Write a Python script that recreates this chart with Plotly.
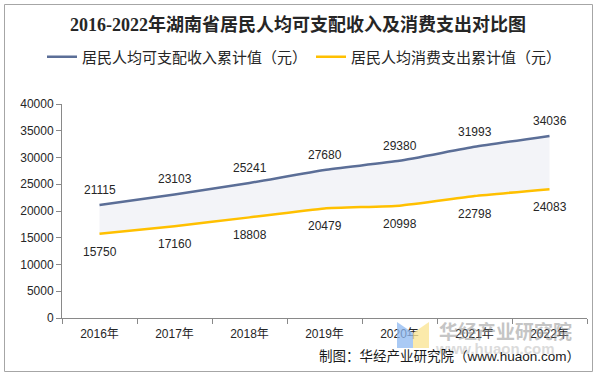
import plotly.graph_objects as go

years = ["2016年", "2017年", "2018年", "2019年", "2020年", "2021年", "2022年"]
income = [21115, 23103, 25241, 27680, 29380, 31993, 34036]
consumption = [15750, 17160, 18808, 20479, 20998, 22798, 24083]
income_name = "居民人均可支配收入累计值（元）"
consumption_name = "居民人均消费支出累计值（元）"
title_text = "2016-2022年湖南省居民人均可支配收入及消费支出对比图"
source_text = "制图：华经产业研究院（www.huaon.com）"
watermark_text = "华经产业研究院"
watermark_url = "www.huaon.com"

W, H = 596, 377
L, R, T, B = 62, 9, 104, 59
pw, ph = W - L - R, H - T - B


def px(x):
    return (x - L) / pw


def py(y):
    return (H - B - y) / ph


INC_COLOR = "#5B6E97"
CON_COLOR = "#FFC000"
SPL = 0.4

fig = go.Figure()
# filled band between the two series (no legend)
fig.add_trace(go.Scatter(x=years, y=consumption, mode="lines", showlegend=False, hoverinfo="skip",
                         line=dict(width=0, shape="spline", smoothing=SPL, color=CON_COLOR)))
fig.add_trace(go.Scatter(x=years, y=income, mode="lines", showlegend=False, hoverinfo="skip",
                         fill="tonexty", fillcolor="#F3F4F8",
                         line=dict(width=0, shape="spline", smoothing=SPL, color=INC_COLOR)))
# visible lines
fig.add_trace(go.Scatter(x=years, y=income, mode="lines", name=income_name,
                         line=dict(color=INC_COLOR, width=2.5, shape="spline", smoothing=SPL)))
fig.add_trace(go.Scatter(x=years, y=consumption, mode="lines", name=consumption_name,
                         line=dict(color=CON_COLOR, width=2.5, shape="spline", smoothing=SPL)))

label_font = dict(family="Liberation Sans, Arial, sans-serif", size=12, color="#262626")
for yr, v in zip(years, income):
    fig.add_annotation(x=yr, y=v, text=str(v), showarrow=False, yshift=15, font=label_font)
for yr, v in zip(years, consumption):
    fig.add_annotation(x=yr, y=v, text=str(v), showarrow=False, yshift=-18, font=label_font)

# watermark
fig.add_annotation(xref="paper", yref="paper", x=px(505), y=py(330), text=watermark_text,
                   showarrow=False, font=dict(family="Noto Sans CJK SC", size=19, color="#8C8C8C", weight="bold"),
                   opacity=0.5, xanchor="center", yanchor="middle")
fig.add_annotation(xref="paper", yref="paper", x=px(495), y=py(348), text=watermark_url,
                   showarrow=False, font=dict(family="Liberation Sans", size=15, color="#9A9A9A", weight="bold"),
                   opacity=0.35, xanchor="center", yanchor="middle")
fig.add_shape(type="path", xref="paper", yref="paper",
              path=f"M {px(397)} {py(322)} L {px(413)} {py(333)} L {px(413)} {py(348)} L {px(397)} {py(348)} Z",
              fillcolor="#8DB8F0", line=dict(width=0), opacity=0.75, layer="above")
fig.add_shape(type="path", xref="paper", yref="paper",
              path=f"M {px(413)} {py(333)} L {px(429)} {py(322)} L {px(429)} {py(348)} L {px(413)} {py(348)} Z",
              fillcolor="#FAE38F", line=dict(width=0), opacity=0.75, layer="above")

# source
fig.add_annotation(xref="paper", yref="paper", x=px(582), y=py(356), text=source_text,
                   showarrow=False, xanchor="right", yanchor="middle",
                   font=dict(family="Liberation Sans, Noto Sans CJK SC", size=13.5, color="#1A1A1A"))

# outer border
fig.add_shape(type="rect", xref="paper", yref="paper",
              x0=px(4.5), x1=px(592.5), y0=py(371.5), y1=py(4.5),
              line=dict(color="#A6A6A6", width=1), fillcolor="rgba(0,0,0,0)", layer="below")

fig.update_layout(
    width=W, height=H,
    margin=dict(l=L, r=R, t=T, b=B),
    paper_bgcolor="white", plot_bgcolor="white",
    title=dict(text=title_text, x=298 / W, xanchor="center", xref="container", y=1 - 24.5 / H, yanchor="middle",
               font=dict(family="Liberation Serif, Noto Sans CJK SC", size=18, color="#262626", weight="bold")),
    legend=dict(orientation="h", traceorder="normal", x=px(42), y=py(57), xanchor="left", yanchor="middle",
                font=dict(family="Noto Sans CJK SC", size=15, color="#262626"),
                entrywidth=224, entrywidthmode="pixels", bgcolor="rgba(0,0,0,0)"),
    showlegend=True,
    xaxis=dict(type="category", range=[-0.5, 6.5], tickson="boundaries", ticks="outside", ticklen=5,
               tickcolor="#898989", showline=True, linecolor="#898989", linewidth=1, showgrid=False,
               ticklabelstandoff=5,
               tickfont=dict(family="Liberation Sans, Noto Sans CJK SC", size=12, color="#262626"),
               fixedrange=True),
    yaxis=dict(range=[0, 40000], dtick=5000, tickformat="d", ticks="outside", ticklen=5, tickcolor="#898989",
               showline=True, linecolor="#898989", linewidth=1, showgrid=False, zeroline=False,
               tickfont=dict(family="Liberation Sans, Arial", size=12, color="#262626"),
               fixedrange=True),
)

fig.write_html("out.html", config={"displayModeBar": False},
               post_script="document.body.style.margin='0';")
